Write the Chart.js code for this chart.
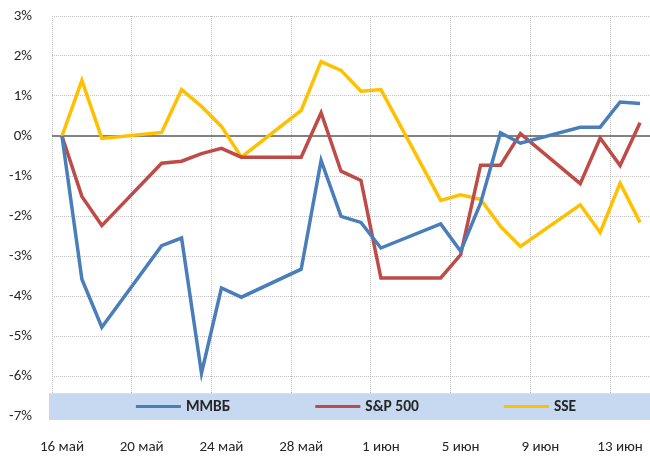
<!DOCTYPE html>
<html>
<head>
<meta charset="utf-8">
<script src="https://cdn.jsdelivr.net/npm/chart.js@4/dist/chart.umd.min.js"></script>
<style>
  html, body { margin: 0; padding: 0; background: #ffffff; }
  #wrap { width: 650px; height: 457px; position: relative; }
</style>
</head>
<body>
<div id="wrap"><canvas id="c"></canvas></div>
<script>
// All calendar days shown on the axis (category slots)
const calendarDays = [
  '16 май','17 май','18 май','19 май','20 май','21 май','22 май','23 май','24 май','25 май',
  '26 май','27 май','28 май','29 май','30 май','31 май',
  '1 июн','2 июн','3 июн','4 июн','5 июн','6 июн','7 июн','8 июн','9 июн','10 июн',
  '11 июн','12 июн','13 июн','14 июн'
];
// Trading days with observations
const tradingDays = [
  '16 май','17 май','18 май','21 май','22 май','23 май','24 май','25 май',
  '28 май','29 май','30 май','31 май','1 июн','4 июн','5 июн','6 июн','7 июн','8 июн',
  '11 июн','12 июн','13 июн','14 июн'
];
// Cumulative change, %
const mmvb = [0, -3.58, -4.78, -2.74, -2.55, -5.93, -3.80, -4.03, -3.33, -0.61, -2.01, -2.16,
              -2.80, -2.20, -2.88, -1.68, 0.08, -0.18, 0.22, 0.22, 0.85, 0.81];
const sp500 = [0, -1.51, -2.24, -0.68, -0.63, -0.44, -0.31, -0.53, -0.53, 0.58, -0.88, -1.11,
               -3.55, -3.55, -2.97, -0.73, -0.73, 0.06, -1.19, -0.05, -0.74, 0.33];
const sse = [0, 1.39, -0.06, 0.09, 1.16, 0.74, 0.24, -0.53, 0.64, 1.86, 1.64, 1.12,
             1.16, -1.61, -1.47, -1.58, -2.26, -2.76, -1.72, -2.41, -1.18, -2.16];
const seriesNames = ['ММВБ', 'S&P 500', 'SSE'];
const yTicks = [-7, -6, -5, -4, -3, -2, -1, 0, 1, 2, 3];

const FONT = "Carlito, Calibri, Lato, 'Noto Sans', sans-serif";
const TEXT = '#262626';

function toPoints(values) {
  return values.map((v, i) => ({ x: tradingDays[i], y: v }));
}

const bandAndLegend = {
  id: 'bandAndLegend',
  beforeDatasetsDraw(chart) {
    const { ctx, chartArea, scales } = chart;
    const y = scales.y;
    // zero line
    ctx.save();
    ctx.strokeStyle = '#595959';
    ctx.lineWidth = 1.5;
    const y0 = y.getPixelForValue(0);
    ctx.beginPath();
    ctx.moveTo(chartArea.left, y0);
    ctx.lineTo(chartArea.right, y0);
    ctx.stroke();
    // legend band
    const top = y.getPixelForValue(-6.43);
    const bottom = chartArea.bottom + 4;
    ctx.fillStyle = '#C6D9F1';
    ctx.fillRect(chartArea.left - 3, top, chartArea.right - chartArea.left + 3, bottom - top);
    // legend items
    ctx.font = 'bold 15.5px ' + FONT;
    const lineLen = 45, gapText = 5, gapItem = 85;
    const widths = chart.data.datasets.map(d => ctx.measureText(d.label).width);
    let total = 0;
    widths.forEach((w, i) => { total += lineLen + gapText + w + (i < widths.length - 1 ? gapItem : 0); });
    let x = (chartArea.left + chartArea.right) / 2 - total / 2 + 5;
    const cy = (top + bottom) / 2;
    chart.data.datasets.forEach((d, i) => {
      ctx.strokeStyle = d.borderColor;
      ctx.lineWidth = 3;
      ctx.beginPath();
      ctx.moveTo(x, cy);
      ctx.lineTo(x + lineLen, cy);
      ctx.stroke();
      ctx.fillStyle = TEXT;
      ctx.textBaseline = 'middle';
      ctx.textAlign = 'left';
      ctx.fillText(d.label, x + lineLen + gapText, cy + 1);
      x += lineLen + gapText + widths[i] + gapItem;
    });
    ctx.restore();
  }
};

new Chart(document.getElementById('c'), {
  type: 'line',
  data: {
    labels: calendarDays,
    datasets: [
      { label: seriesNames[0], data: toPoints(mmvb), borderColor: '#4A7EBB', borderWidth: 3.5 },
      { label: seriesNames[1], data: toPoints(sp500), borderColor: '#BE4B48', borderWidth: 3.5 },
      { label: seriesNames[2], data: toPoints(sse), borderColor: '#FFC000', borderWidth: 3.5 }
    ]
  },
  options: {
    responsive: true,
    maintainAspectRatio: false,
    animation: false,
    layout: { padding: { top: 16, right: 0, left: 0, bottom: 0 } },
    elements: {
      line: { tension: 0, borderJoinStyle: 'miter', borderCapStyle: 'butt' },
      point: { radius: 0, hoverRadius: 0 }
    },
    plugins: {
      legend: { display: false },
      tooltip: { enabled: false }
    },
    scales: {
      x: {
        type: 'category',
        offset: true,
        grid: {
          offset: true,
          drawTicks: true,
          tickLength: 22,
          tickColor: 'rgba(0,0,0,0)',
          color: ctx => (ctx.index % 4 === 0 ? '#C0C0C0' : 'rgba(0,0,0,0)'),
          lineWidth: 1
        },
        border: { display: false, dash: [1, 1] },
        ticks: {
          autoSkip: false,
          maxRotation: 0,
          minRotation: 0,
          padding: 0,
          color: TEXT,
          font: { family: FONT, size: 15 },
          callback: function (val, idx) { return idx % 4 === 0 ? this.getLabelForValue(val) : ''; }
        },
        afterFit: s => { s.height = 41; }
      },
      y: {
        min: yTicks[0],
        max: yTicks[yTicks.length - 1],
        afterBuildTicks: s => { s.ticks = yTicks.map(v => ({ value: v })); },
        grid: {
          drawTicks: true,
          tickLength: 20,
          tickColor: 'rgba(0,0,0,0)',
          color: ctx => (ctx.tick && ctx.tick.value === 0 ? 'rgba(0,0,0,0)' : '#C0C0C0'),
          lineWidth: 1
        },
        border: { display: false, dash: [1, 1] },
        ticks: {
          padding: 0,
          color: TEXT,
          font: { family: FONT, size: 15 },
          callback: v => v + '%'
        },
        afterFit: s => { s.width = 52; }
      }
    }
  },
  plugins: [bandAndLegend]
});
</script>
</body>
</html>
